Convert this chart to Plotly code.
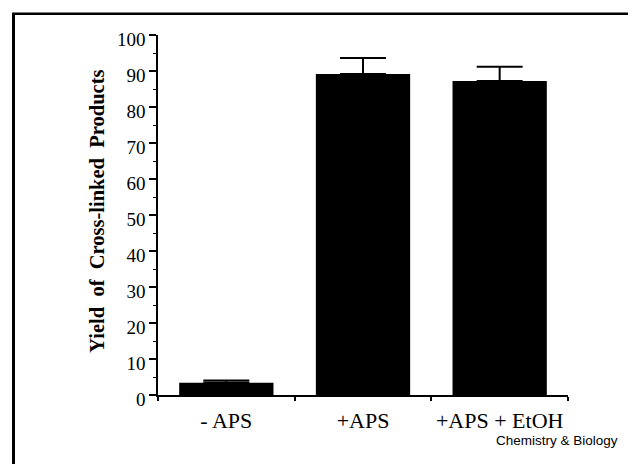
import plotly.graph_objects as go

categories = ["- APS", "+APS", "+APS + EtOH"]
yields = [3.4, 89.2, 87.2]
errors = [0.6, 4.4, 4.0]
y_ticks = [0, 10, 20, 30, 40, 50, 60, 70, 80, 90, 100]

# page body has an 8px default margin, so figure coordinates = page coordinates - 8
OFF = 8
W, H = 636 - OFF, 464 - OFF
L, T = 158 - OFF, 34.5 - OFF
R = W - (568 - OFF)
B = H - (395 - OFF)
pw = W - L - R
ph = H - T - B

def px_x(x):
    return (x - OFF - L) / pw

def px_y(y):
    return (H - B - (y - OFF)) / ph

fig = go.Figure()
fig.add_trace(go.Bar(
    x=categories, y=yields, width=0.69,
    marker=dict(color="black", line=dict(width=0)),
    error_y=dict(type="data", array=errors, symmetric=False, arrayminus=[0, 0, 0],
                 color="black", thickness=2, width=23, visible=True),
    showlegend=False,
))

serif = "Liberation Serif"
fig.update_layout(
    width=W, height=H,
    margin=dict(l=L, r=R, t=T, b=B, pad=0, autoexpand=False),
    paper_bgcolor="white", plot_bgcolor="white",
    xaxis=dict(
        range=[-0.5, 2.5], showgrid=False, zeroline=False, automargin=False,
        showline=True, linecolor="black", linewidth=1.5,
        ticks="outside", ticklen=4, tickwidth=1.5, tickcolor="black",
        tickson="boundaries", tickangle=0, ticklabelstandoff=5,
        tickfont=dict(family=serif, size=22, color="black"),
    ),
    yaxis=dict(
        range=[0, 100], showgrid=False, zeroline=False, automargin=False,
        showline=True, linecolor="black", linewidth=1.5,
        tickmode="array", tickvals=y_ticks, ticktext=[str(v) for v in y_ticks],
        ticks="outside", ticklen=7, tickwidth=1.5, tickcolor="black",
        ticklabelshift=4,
        minor=dict(ticks="outside", ticklen=3, tickwidth=1.2, tickcolor="black", dtick=5, tick0=0),
        tickfont=dict(family=serif, size=19, color="black"),
    ),
    annotations=[
        dict(text="<b>Yield  of  Cross-linked  Products</b>", textangle=-90,
             xref="paper", yref="paper", x=px_x(97), y=px_y(211.5),
             xanchor="center", yanchor="middle", showarrow=False,
             font=dict(family=serif, size=20.5, color="black")),
        dict(text="Chemistry & Biology", xref="paper", yref="paper",
             x=px_x(620), y=px_y(441), xanchor="right", yanchor="middle",
             showarrow=False,
             font=dict(family="Liberation Sans", size=13.5, color="black")),
    ],
    shapes=[
        dict(type="line", xref="paper", yref="paper",
             x0=px_x(13.5), x1=px_x(13.5), y0=px_y(13), y1=px_y(470),
             line=dict(color="black", width=3)),
        dict(type="line", xref="paper", yref="paper",
             x0=px_x(12), x1=px_x(640), y0=px_y(13.25), y1=px_y(13.25),
             line=dict(color="black", width=2.5)),
    ],
)

fig.write_html("out.html")
